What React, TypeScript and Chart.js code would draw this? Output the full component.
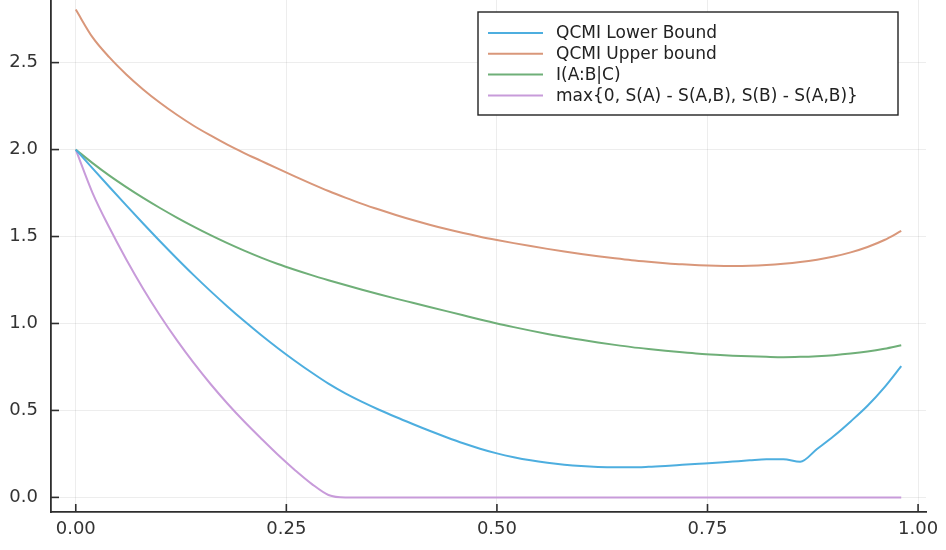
import React, { useEffect, useRef } from "react";
import { Chart, registerables } from "chart.js";

Chart.register(...registerables);

const xs = [
  0, 0.02, 0.04, 0.06, 0.08, 0.1, 0.12, 0.14, 0.16, 0.18,
  0.2, 0.22, 0.24, 0.26, 0.28, 0.3, 0.32, 0.34, 0.36, 0.38,
  0.4, 0.42, 0.44, 0.46, 0.48, 0.5, 0.52, 0.54, 0.56, 0.58,
  0.6, 0.62, 0.64, 0.66, 0.68, 0.7, 0.72, 0.74, 0.76, 0.78,
  0.8, 0.82, 0.84, 0.86, 0.88, 0.9, 0.92, 0.94, 0.96, 0.98,
];

const lowerBound = [
  2.0, 1.892, 1.785, 1.679, 1.575, 1.473, 1.374, 1.278, 1.186, 1.098,
  1.014, 0.934, 0.858, 0.786, 0.718, 0.654, 0.598, 0.549, 0.504, 0.462,
  0.422, 0.383, 0.346, 0.311, 0.28, 0.253, 0.231, 0.213, 0.199, 0.188,
  0.18, 0.175, 0.173, 0.173, 0.176, 0.181, 0.187, 0.193, 0.199, 0.206,
  0.213, 0.219, 0.219, 0.205, 0.278, 0.353, 0.437, 0.527, 0.633, 0.755,
];

const upperBound = [
  2.805, 2.645, 2.53, 2.432, 2.346, 2.269, 2.2, 2.137, 2.081, 2.028,
  1.98, 1.935, 1.89, 1.846, 1.803, 1.762, 1.724, 1.688, 1.655, 1.624,
  1.595, 1.568, 1.543, 1.52, 1.499, 1.48, 1.462, 1.445, 1.429, 1.414,
  1.4, 1.387, 1.375, 1.364, 1.355, 1.347, 1.34, 1.335, 1.332, 1.331,
  1.332, 1.336, 1.343, 1.353, 1.367, 1.385, 1.409, 1.44, 1.48, 1.532,
];

const condMI = [
  2.0, 1.922, 1.85, 1.784, 1.722, 1.664, 1.609, 1.557, 1.508, 1.462,
  1.419, 1.379, 1.342, 1.309, 1.278, 1.249, 1.221, 1.194, 1.168, 1.143,
  1.119, 1.095, 1.071, 1.047, 1.023, 1.0, 0.979, 0.959, 0.94, 0.922,
  0.906, 0.891, 0.877, 0.864, 0.853, 0.843, 0.834, 0.826, 0.82, 0.815,
  0.811, 0.808, 0.806, 0.808, 0.812, 0.818, 0.827, 0.839, 0.855, 0.875,
];

const maxEntropy = [
  2.0, 1.75, 1.55, 1.368, 1.2, 1.046, 0.904, 0.773, 0.652, 0.54,
  0.436, 0.339, 0.245, 0.158, 0.078, 0.014, 0, 0, 0, 0,
  0, 0, 0, 0, 0, 0, 0, 0, 0, 0,
  0, 0, 0, 0, 0, 0, 0, 0, 0, 0,
  0, 0, 0, 0, 0, 0, 0, 0, 0, 0,
];

const seriesLabels = [
  "QCMI Lower Bound",
  "QCMI Upper bound",
  "I(A:B|C)",
  "max{0, S(A) - S(A,B), S(B) - S(A,B)}",
];
const seriesColors = ["#4DAEDF", "#D9977A", "#6FAF78", "#C89BDA"];
const xTicks = [0, 0.25, 0.5, 0.75, 1.0];
const yTicks = [0, 0.5, 1.0, 1.5, 2.0, 2.5];

const FONT = "'DejaVu Sans', sans-serif";
const AXIS_COLOR = "#2e2e2e";

const decorPlugin = {
  id: "decor",
  afterDraw(chart: any) {
    const ctx = chart.ctx;
    const { left, bottom } = chart.chartArea;
    const xs_ = chart.scales.x;
    const ys_ = chart.scales.y;
    ctx.save();
    ctx.strokeStyle = AXIS_COLOR;
    ctx.lineWidth = 1.6;
    for (const t of yTicks) {
      const py = ys_.getPixelForValue(t);
      ctx.beginPath();
      ctx.moveTo(left, py);
      ctx.lineTo(left + 8, py);
      ctx.stroke();
    }
    for (const t of xTicks) {
      const px = xs_.getPixelForValue(t);
      ctx.beginPath();
      ctx.moveTo(px, bottom);
      ctx.lineTo(px, bottom - 8);
      ctx.stroke();
    }
    const bx = 478, by = 12, bw = 420, bh = 103;
    ctx.fillStyle = "#ffffff";
    ctx.fillRect(bx, by, bw, bh);
    ctx.lineWidth = 1.4;
    ctx.strokeStyle = "#222222";
    ctx.strokeRect(bx, by, bw, bh);
    ctx.font = `17px ${FONT}`;
    ctx.textBaseline = "middle";
    ctx.textAlign = "left";
    chart.data.datasets.forEach((ds: any, i: number) => {
      const cy = 33 + i * 20.8;
      ctx.strokeStyle = ds.borderColor;
      ctx.lineWidth = 2;
      ctx.beginPath();
      ctx.moveTo(488, cy);
      ctx.lineTo(543, cy);
      ctx.stroke();
      ctx.fillStyle = "#222222";
      ctx.fillText(ds.label, 556, cy + 1);
    });
    ctx.restore();
  },
};

export default function App() {
  const canvasRef = useRef<HTMLCanvasElement | null>(null);

  useEffect(() => {
    const canvas = canvasRef.current;
    if (!canvas) return;
    const seriesValues = [lowerBound, upperBound, condMI, maxEntropy];
    const chart = new Chart(canvas, {
      type: "line",
      data: {
        datasets: seriesValues.map((vals, i) => ({
          label: seriesLabels[i],
          data: xs.map((x, j) => ({ x, y: vals[j] })),
          borderColor: seriesColors[i],
          backgroundColor: seriesColors[i],
          borderWidth: 2,
          pointRadius: 0,
          cubicInterpolationMode: "monotone",
          fill: false,
        })),
      },
      options: {
        responsive: false,
        animation: false,
        maintainAspectRatio: false,
        layout: { padding: { left: 0, right: 20, top: 0, bottom: 0 } },
        plugins: {
          legend: { display: false },
          tooltip: { enabled: false },
          title: { display: false },
        },
        scales: {
          x: {
            type: "linear",
            min: -0.0294,
            max: 1.0094,
            afterBuildTicks: (scale: any) => {
              scale.ticks = xTicks.map((v) => ({ value: v }));
            },
            afterFit: (scale: any) => {
              scale.height = 38;
              scale.paddingLeft = 0;
              scale.paddingRight = 0;
            },
            ticks: {
              callback: (v: any) => Number(v).toFixed(2),
              font: { family: FONT, size: 18 },
              color: "#333333",
              padding: 7,
              maxRotation: 0,
            },
            grid: {
              color: "rgba(0,0,0,0.07)",
              lineWidth: 1,
              drawTicks: false,
            },
            border: { display: true, color: AXIS_COLOR, width: 1.8 },
          },
          y: {
            type: "linear",
            min: -0.084,
            max: 2.86,
            afterBuildTicks: (scale: any) => {
              scale.ticks = yTicks.map((v) => ({ value: v }));
            },
            afterFit: (scale: any) => {
              scale.width = 51;
              scale.paddingTop = 0;
              scale.paddingBottom = 0;
            },
            ticks: {
              callback: (v: any) => Number(v).toFixed(1),
              font: { family: FONT, size: 18 },
              color: "#333333",
              padding: 13,
            },
            grid: {
              color: "rgba(0,0,0,0.07)",
              lineWidth: 1,
              drawTicks: false,
            },
            border: { display: true, color: AXIS_COLOR, width: 1.8 },
          },
        },
      },
      plugins: [decorPlugin],
    });
    return () => chart.destroy();
  }, []);

  return (
    <div style={{ position: "fixed", left: 0, top: 0, width: 946, height: 550, background: "#ffffff" }}>
      <canvas ref={canvasRef} width={946} height={550} />
    </div>
  );
}
